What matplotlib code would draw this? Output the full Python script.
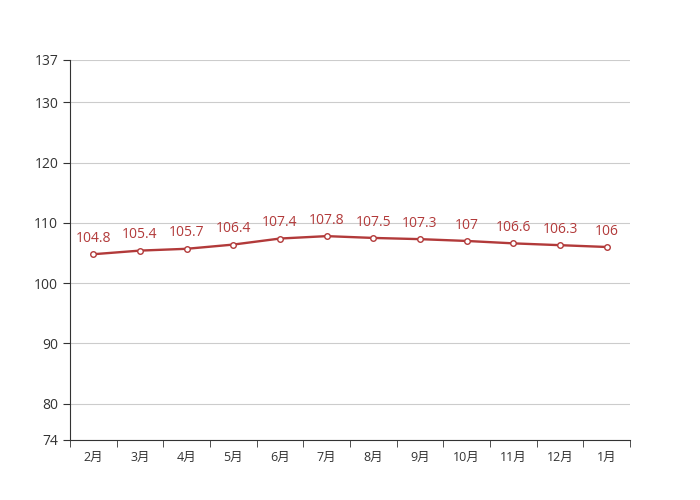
import matplotlib
matplotlib.use("Agg")
import matplotlib.pyplot as plt

plt.rcParams['font.family'] = ['Open Sans', 'Noto Sans CJK SC', 'DejaVu Sans']

months = ['2月', '3月', '4月', '5月', '6月', '7月', '8月', '9月', '10月', '11月', '12月', '1月']
values = [104.8, 105.4, 105.7, 106.4, 107.4, 107.8, 107.5, 107.3, 107, 106.6, 106.3, 106]
yticks = [74, 80, 90, 100, 110, 120, 130, 137]

line_color = '#b23a3a'

fig = plt.figure(figsize=(7, 5), dpi=100)
ax = fig.add_axes([0.1, 0.12, 0.8, 0.76])

x = list(range(len(months)))
ax.plot(x, values, color=line_color, lw=1.7, marker='o', ms=4,
        mfc='white', mec=line_color, mew=1, zorder=3)
for xi, v in zip(x, values):
    ax.annotate('{:g}'.format(v), (xi, v), xytext=(0, 6), textcoords='offset points',
                ha='center', va='bottom', fontsize=10, color=line_color)

ax.set_xlim(-0.5, len(months) - 0.5)
ax.set_ylim(74, 137)
ax.set_yticks(yticks)
ax.set_yticklabels([str(t) for t in yticks])
ax.set_xticks(x)
ax.set_xticklabels(months)
ax.set_xticks([i - 0.5 for i in range(len(months) + 1)], minor=True)
ax.tick_params(axis='x', which='major', length=0, pad=8, labelsize=9, colors='#333333')
ax.tick_params(axis='x', which='minor', length=5, color='#333333')
ax.tick_params(axis='y', length=5, labelsize=10, colors='#333333')

ax.grid(axis='y', color='#cccccc', lw=0.8)
ax.set_axisbelow(True)
for s in ['top', 'right']:
    ax.spines[s].set_visible(False)
for s in ['left', 'bottom']:
    ax.spines[s].set_color('#333333')

fig.savefig('out.png', dpi=100)
